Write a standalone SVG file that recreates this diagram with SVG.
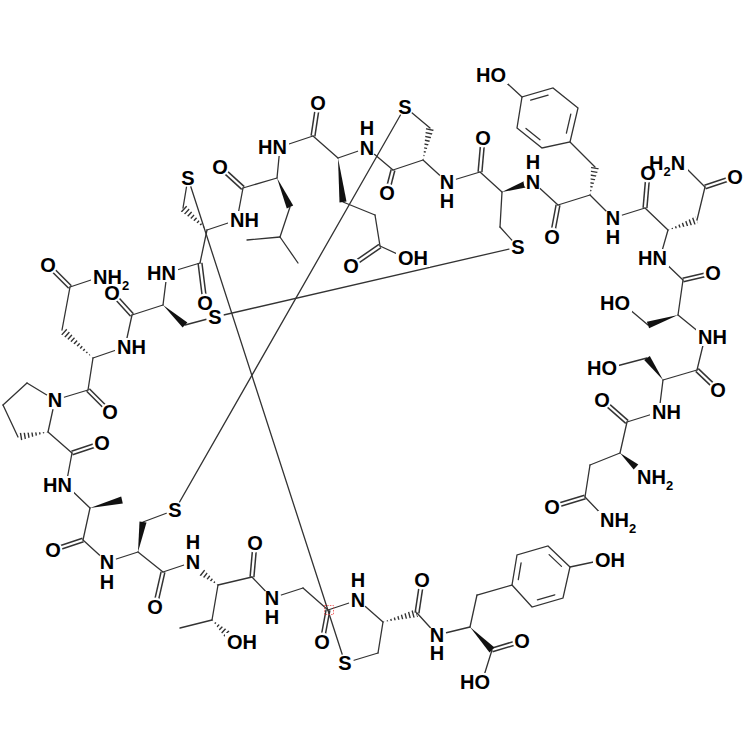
<svg xmlns="http://www.w3.org/2000/svg" xmlns:xlink="http://www.w3.org/1999/xlink" width="750" height="750" viewBox="0 0 750 750">
<style>
.t{font-family:"Liberation Sans",Arial,sans-serif;font-weight:bold;font-size:20px;fill:#000}
.c{text-anchor:middle}
.hash{stroke:#333;stroke-width:9;stroke-dasharray:1.4 2.4;fill:none}
.wedge{fill:#111;stroke:none}
</style>
<defs>
<mask id="lbl" maskUnits="userSpaceOnUse" x="0" y="0" width="750" height="750">
<rect width="750" height="750" fill="#fff"/>
<g fill="#000">
<circle cx="318" cy="103" r="9.5"/><circle cx="367" cy="148" r="9.5"/><circle cx="387" cy="193" r="9.5"/><circle cx="405" cy="107" r="9"/>
<circle cx="447" cy="182" r="9.5"/><circle cx="483" cy="138" r="9.5"/><circle cx="533" cy="182" r="9.5"/><circle cx="518" cy="247" r="9"/>
<circle cx="552" cy="237" r="9.5"/><circle cx="613" cy="218" r="9.5"/><circle cx="648" cy="173" r="9.5"/><circle cx="735" cy="177" r="9.5"/>
<circle cx="713" cy="273" r="9.5"/><circle cx="718" cy="390" r="9.5"/><circle cx="602" cy="400" r="9.5"/><circle cx="552" cy="507" r="9.5"/>
<circle cx="522" cy="641" r="9.5"/><circle cx="437" cy="635" r="9.5"/><circle cx="422" cy="580" r="9.5"/><circle cx="358" cy="600" r="9.5"/>
<circle cx="345" cy="663" r="9"/><circle cx="322" cy="642" r="9.5"/><circle cx="272" cy="598" r="9.5"/><circle cx="255" cy="543" r="9.5"/>
<circle cx="193" cy="562" r="9.5"/><circle cx="155" cy="607" r="9.5"/><circle cx="175" cy="510" r="9"/><circle cx="107" cy="562" r="9.5"/>
<circle cx="53" cy="550" r="9.5"/><circle cx="102" cy="443" r="9.5"/><circle cx="55" cy="400" r="9.5"/><circle cx="110" cy="412" r="9.5"/>
<circle cx="48" cy="265" r="9.5"/><circle cx="112" cy="293" r="9.5"/><circle cx="205" cy="303" r="9.5"/><circle cx="215" cy="317" r="9"/>
<circle cx="188" cy="178" r="9"/><circle cx="220" cy="167" r="9.5"/><circle cx="351" cy="266" r="9.5"/>
<rect x="256" y="138" width="33" height="18"/><rect x="474" y="66" width="34" height="18"/><rect x="647" y="154" width="41" height="20"/>
<rect x="636" y="249" width="33" height="18"/><rect x="598" y="294" width="34" height="18"/><rect x="696" y="328" width="33" height="18"/>
<rect x="585" y="359" width="34" height="18"/><rect x="650" y="403" width="33" height="18"/><rect x="635" y="468" width="41" height="20"/>
<rect x="598" y="511" width="41" height="20"/><rect x="593" y="551" width="34" height="18"/><rect x="458" y="673" width="34" height="18"/>
<rect x="225" y="633" width="34" height="18"/><rect x="41" y="476" width="33" height="18"/><rect x="91" y="268" width="41" height="20"/>
<rect x="115" y="338" width="33" height="18"/><rect x="145" y="264" width="33" height="18"/><rect x="228" y="211" width="33" height="18"/>
<rect x="396" y="249" width="34" height="18"/>
</g>
</mask>
<clipPath id="h1"><polygon points="207,230 185.7,205.1 180.3,210.9"/></clipPath>
<clipPath id="h2"><polygon points="423,160 433.9,128.9 426.1,127.2"/></clipPath>
<clipPath id="h3"><polygon points="590,195 598.9,167.7 591.1,166.3"/></clipPath>
<clipPath id="h4"><polygon points="668,230 698.3,223.8 695.7,216.2"/></clipPath>
<clipPath id="h5"><polygon points="93,358 64.7,327 59.3,333"/></clipPath>
<clipPath id="h6"><polygon points="48,432 17.3,433 18.7,441"/></clipPath>
<clipPath id="h7"><polygon points="218,585 202.5,567.8 197.5,574.2"/></clipPath>
<clipPath id="h8"><polygon points="212,620 225.3,637.9 230.7,632.1"/></clipPath>
<clipPath id="h9"><polygon points="383,622 418,616.9 416,609.1"/></clipPath>
<g id="dbl">
<line x1="313" y1="136" x2="318" y2="103"/><line x1="380" y1="246" x2="351" y2="266"/><line x1="393" y1="170" x2="387" y2="193"/>
<line x1="480" y1="172" x2="483" y2="138"/><line x1="558" y1="205" x2="552" y2="237"/><line x1="645" y1="208" x2="648" y2="173"/>
<line x1="705" y1="187" x2="735" y2="177"/><line x1="683" y1="280" x2="713" y2="273"/><line x1="697" y1="370" x2="718" y2="390"/>
<line x1="627" y1="422" x2="602" y2="400"/><line x1="585" y1="497" x2="552" y2="507"/><line x1="492" y1="650" x2="522" y2="641"/>
<line x1="417" y1="613" x2="422" y2="580"/><line x1="328" y1="610" x2="322" y2="642"/><line x1="252" y1="577" x2="255" y2="543"/>
<line x1="163" y1="572" x2="155" y2="607"/><line x1="83" y1="540" x2="53" y2="550"/><line x1="72" y1="453" x2="102" y2="443"/>
<line x1="88" y1="390" x2="110" y2="412"/><line x1="70" y1="287" x2="48" y2="265"/><line x1="132" y1="315" x2="112" y2="293"/>
<line x1="200" y1="263" x2="205" y2="303"/><line x1="243" y1="188" x2="220" y2="167"/>
</g>
</defs>
<rect width="750" height="750" fill="#fff"/>
<g id="connectors" mask="url(#lbl)">
<use xlink:href="#dbl" href="#dbl" stroke="#333" stroke-width="5.3"/>
<use xlink:href="#dbl" href="#dbl" stroke="#fff" stroke-width="2.3"/>
<g id="single-bonds" stroke="#333" stroke-width="1.3" stroke-linecap="round" fill="none">
<line x1="280" y1="147" x2="313" y2="136"/><line x1="313" y1="136" x2="338" y2="158"/><line x1="338" y1="158" x2="367" y2="148"/>
<line x1="343" y1="202" x2="375" y2="215"/><line x1="375" y1="215" x2="380" y2="246"/><line x1="380" y1="246" x2="406" y2="258"/>
<line x1="367" y1="148" x2="393" y2="170"/><line x1="393" y1="170" x2="423" y2="160"/><line x1="430" y1="128" x2="405" y2="107"/>
<line x1="423" y1="160" x2="447" y2="182"/><line x1="447" y1="182" x2="480" y2="172"/><line x1="480" y1="172" x2="502" y2="192"/>
<line x1="502" y1="192" x2="500" y2="227"/><line x1="500" y1="227" x2="518" y2="247"/><line x1="533" y1="182" x2="558" y2="205"/>
<line x1="558" y1="205" x2="590" y2="195"/><line x1="595" y1="167" x2="570" y2="142"/><line x1="522" y1="97" x2="498" y2="75"/>
<line x1="590" y1="195" x2="613" y2="218"/><line x1="613" y1="218" x2="645" y2="208"/><line x1="645" y1="208" x2="668" y2="230"/>
<line x1="697" y1="220" x2="705" y2="187"/><line x1="705" y1="187" x2="681" y2="163"/><line x1="668" y1="230" x2="660" y2="258"/>
<line x1="660" y1="258" x2="683" y2="280"/><line x1="683" y1="280" x2="678" y2="315"/><line x1="648" y1="325" x2="622" y2="303"/>
<line x1="678" y1="315" x2="705" y2="337"/><line x1="705" y1="337" x2="697" y2="370"/><line x1="697" y1="370" x2="663" y2="380"/>
<line x1="647" y1="358" x2="609" y2="368"/><line x1="663" y1="380" x2="659" y2="412"/><line x1="659" y1="412" x2="627" y2="422"/>
<line x1="627" y1="422" x2="620" y2="453"/><line x1="620" y1="453" x2="590" y2="465"/><line x1="590" y1="465" x2="585" y2="497"/>
<line x1="585" y1="497" x2="607" y2="520"/>
<line x1="470" y1="627" x2="477" y2="595"/><line x1="477" y1="595" x2="512" y2="585"/><line x1="570" y1="567" x2="603" y2="560"/>
<line x1="492" y1="650" x2="482" y2="682"/><line x1="470" y1="627" x2="437" y2="635"/><line x1="437" y1="635" x2="417" y2="613"/>
<line x1="383" y1="622" x2="358" y2="600"/><line x1="383" y1="622" x2="378" y2="653"/><line x1="378" y1="653" x2="345" y2="663"/>
<line x1="358" y1="600" x2="328" y2="610"/><line x1="328" y1="610" x2="303" y2="588"/><line x1="303" y1="588" x2="272" y2="598"/>
<line x1="272" y1="598" x2="252" y2="577"/><line x1="252" y1="577" x2="218" y2="585"/><line x1="218" y1="585" x2="212" y2="620"/>
<line x1="212" y1="620" x2="180" y2="628"/><line x1="193" y1="562" x2="163" y2="572"/><line x1="163" y1="572" x2="138" y2="552"/>
<line x1="143" y1="522" x2="175" y2="510"/><line x1="138" y1="552" x2="107" y2="562"/><line x1="107" y1="562" x2="83" y2="540"/>
<line x1="83" y1="540" x2="90" y2="508"/><line x1="90" y1="508" x2="66" y2="485"/><line x1="66" y1="485" x2="72" y2="453"/>
<line x1="72" y1="453" x2="48" y2="432"/><line x1="48" y1="432" x2="55" y2="400"/><line x1="18" y1="437" x2="3" y2="405"/>
<line x1="3" y1="405" x2="27" y2="383"/><line x1="27" y1="383" x2="55" y2="400"/><line x1="55" y1="400" x2="88" y2="390"/>
<line x1="88" y1="390" x2="93" y2="358"/><line x1="62" y1="330" x2="70" y2="287"/><line x1="70" y1="287" x2="100" y2="277"/>
<line x1="93" y1="358" x2="125" y2="347"/><line x1="125" y1="347" x2="132" y2="315"/><line x1="132" y1="315" x2="163" y2="305"/>
<line x1="185" y1="325" x2="215" y2="317"/><line x1="163" y1="305" x2="167" y2="273"/><line x1="167" y1="273" x2="200" y2="263"/>
<line x1="200" y1="263" x2="207" y2="230"/><line x1="183" y1="208" x2="188" y2="178"/><line x1="207" y1="230" x2="237" y2="220"/>
<line x1="237" y1="220" x2="243" y2="188"/><line x1="243" y1="188" x2="277" y2="178"/><line x1="277" y1="178" x2="280" y2="147"/>
<line x1="290" y1="207" x2="280" y2="237"/><line x1="280" y1="237" x2="247" y2="240"/><line x1="280" y1="237" x2="298" y2="263"/>
<polygon points="570,142 578,108 553,88 522,97 517,128 542,148"/>
<line x1="566.4" y1="133.2" x2="570.8" y2="114.2"/><line x1="548.1" y1="95.2" x2="530.7" y2="100.2"/><line x1="526" y1="128.5" x2="540" y2="139.7"/>
<polygon points="512,585 517,555 548,546 570,567 563,598 532,607"/>
<line x1="518.3" y1="579.7" x2="521.1" y2="562.9"/><line x1="549.1" y1="554.6" x2="561.5" y2="566.4"/><line x1="554.8" y1="594.8" x2="537.4" y2="599.8"/>
</g>
<g id="disulfides" stroke="#333" stroke-width="1.3" stroke-linecap="round">
<line x1="405" y1="107" x2="175" y2="510"/>
<line x1="518" y1="247" x2="215" y2="317"/>
<line x1="188" y1="178" x2="345" y2="663"/>
</g>
<g id="wedges">
<polygon class="wedge" points="338,158 339.5,202.4 346.5,201.6"/>
<polygon class="wedge" points="277,178 286.8,208.4 293.2,205.6"/>
<polygon class="wedge" points="502,192 527.1,187.3 524.9,180.7"/>
<polygon class="wedge" points="678,315 646.9,321.7 649.1,328.3"/>
<polygon class="wedge" points="663,380 649.8,355.9 644.2,360.1"/>
<polygon class="wedge" points="620,453 633.7,469.6 638.3,464.4"/>
<polygon class="wedge" points="163,305 182.6,327.6 187.4,322.4"/>
<polygon class="wedge" points="90,508 122.8,503.4 121.2,496.6"/>
<polygon class="wedge" points="138,552 146.5,522.6 139.5,521.4"/>
<polygon class="wedge" points="470,627 489.5,652.4 494.5,647.6"/>
</g>
<g id="hashes">
<line class="hash" clip-path="url(#h1)" x1="207" y1="230" x2="183" y2="208"/>
<line class="hash" clip-path="url(#h2)" x1="423" y1="160" x2="430" y2="128"/>
<line class="hash" clip-path="url(#h3)" x1="590" y1="195" x2="595" y2="167"/>
<line class="hash" clip-path="url(#h4)" x1="668" y1="230" x2="697" y2="220"/>
<line class="hash" clip-path="url(#h5)" x1="93" y1="358" x2="62" y2="330"/>
<line class="hash" clip-path="url(#h6)" x1="48" y1="432" x2="18" y2="437"/>
<line class="hash" clip-path="url(#h7)" x1="218" y1="585" x2="200" y2="571"/>
<line class="hash" clip-path="url(#h8)" x1="212" y1="620" x2="228" y2="635"/>
<line class="hash" clip-path="url(#h9)" x1="383" y1="622" x2="417" y2="613"/>
</g>
</g>
<rect x="324.5" y="605.5" width="9" height="9" fill="none" stroke="#e44" stroke-width="0.8" stroke-dasharray="1.5 1.2"/>
<g id="labels" class="t">
<text class="c" x="318" y="110">O</text>
<text class="c"><tspan x="367" y="135">H</tspan><tspan x="367" y="155">N</tspan></text>
<text class="c" x="387" y="200">O</text>
<text class="c" x="405" y="114">S</text>
<text class="c"><tspan x="447" y="189">N</tspan><tspan x="447" y="208">H</tspan></text>
<text class="c" x="483" y="145">O</text>
<text class="c"><tspan x="533" y="169">H</tspan><tspan x="533" y="189">N</tspan></text>
<text class="c" x="518" y="254">S</text>
<text class="c" x="552" y="244">O</text>
<text x="476" y="82">HO</text>
<text class="c"><tspan x="613" y="225">N</tspan><tspan x="613" y="244">H</tspan></text>
<text class="c" x="648" y="180">O</text>
<text x="649" y="170">H<tspan font-size="13" dy="6">2</tspan><tspan dy="-6">N</tspan></text>
<text class="c" x="735" y="184">O</text>
<text x="638" y="265">HN</text>
<text class="c" x="713" y="280">O</text>
<text x="600" y="310">HO</text>
<text x="698" y="344">NH</text>
<text class="c" x="718" y="397">O</text>
<text x="587" y="375">HO</text>
<text x="652" y="419">NH</text>
<text class="c" x="602" y="407">O</text>
<text x="637" y="484">NH<tspan font-size="13" dy="6">2</tspan></text>
<text class="c" x="552" y="514">O</text>
<text x="600" y="527">NH<tspan font-size="13" dy="6">2</tspan></text>
<text x="595" y="567">OH</text>
<text class="c" x="522" y="648">O</text>
<text x="460" y="689">HO</text>
<text class="c"><tspan x="437" y="642">N</tspan><tspan x="437" y="660">H</tspan></text>
<text class="c" x="422" y="587">O</text>
<text class="c"><tspan x="358" y="587">H</tspan><tspan x="358" y="607">N</tspan></text>
<text class="c" x="345" y="670">S</text>
<text class="c" x="322" y="649">O</text>
<text class="c"><tspan x="272" y="605">N</tspan><tspan x="272" y="624">H</tspan></text>
<text class="c" x="255" y="550">O</text>
<text x="227" y="649">OH</text>
<text class="c"><tspan x="193" y="549">H</tspan><tspan x="193" y="569">N</tspan></text>
<text class="c" x="155" y="614">O</text>
<text class="c" x="175" y="517">S</text>
<text class="c"><tspan x="107" y="569">N</tspan><tspan x="107" y="589">H</tspan></text>
<text class="c" x="53" y="557">O</text>
<text x="43" y="492">HN</text>
<text class="c" x="102" y="450">O</text>
<text class="c" x="55" y="407">N</text>
<text class="c" x="110" y="419">O</text>
<text class="c" x="48" y="272">O</text>
<text x="93" y="284">NH<tspan font-size="13" dy="6">2</tspan></text>
<text x="117" y="354">NH</text>
<text class="c" x="112" y="300">O</text>
<text x="147" y="280">HN</text>
<text class="c" x="205" y="310">O</text>
<text class="c" x="215" y="324">S</text>
<text class="c" x="188" y="185">S</text>
<text class="c" x="220" y="174">O</text>
<text x="230" y="227">NH</text>
<text x="258" y="154">HN</text>
<text class="c" x="351" y="273">O</text>
<text x="398" y="265">OH</text>
</g>
</svg>
